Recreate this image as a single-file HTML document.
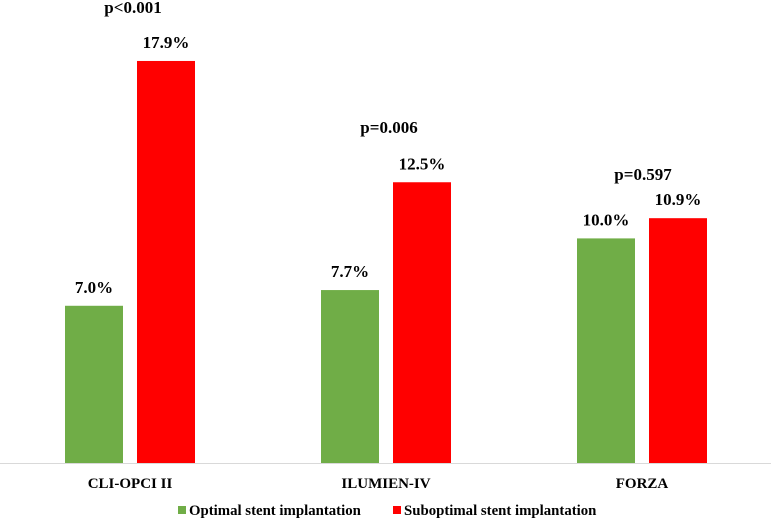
<!DOCTYPE html>
<html><head><meta charset="utf-8"><style>
body{margin:0;background:#fff;width:771px;height:520px;overflow:hidden}
svg text{font-family:"Liberation Serif",serif;font-weight:bold;fill:#000}
</style></head><body>
<svg id="chart" width="771" height="520" xmlns="http://www.w3.org/2000/svg">
<line x1="0" y1="463.5" x2="771" y2="463.5" stroke="#d9d9d9" stroke-width="1"/>
<g id="bars"></g>
<g>
<rect x="178" y="506" width="8" height="8" fill="#70AD47"/>
<text x="189" y="515" font-size="14.8">Optimal stent implantation</text>
<rect x="393" y="506" width="8" height="8" fill="#FF0000"/>
<text x="404" y="515" font-size="14.8">Suboptimal stent implantation</text>
</g>
</svg>
<script>
const categories = ["CLI-OPCI II","ILUMIEN-IV","FORZA"];
const optimal = [7.0, 7.7, 10.0];
const suboptimal = [17.9, 12.5, 10.9];
const pvalues = ["p<0.001","p=0.006","p=0.597"];
const pvalueY = [13, 133, 180];

const NS="http://www.w3.org/2000/svg";
const g=document.getElementById('bars');
const baseY=463, pxPer=22.46;
const y=v=>baseY-v*pxPer;
const cx=i=>130+i*256;
const pOffset=[3,3,1];
function mk(tag,attrs,txt){const e=document.createElementNS(NS,tag);for(const k in attrs)e.setAttribute(k,attrs[k]);if(txt!==undefined)e.textContent=txt;g.appendChild(e);return e;}
categories.forEach((c,i)=>{
  const series=[[optimal[i],"#70AD47",cx(i)-65,"optimal"],[suboptimal[i],"#FF0000",cx(i)+7,"suboptimal"]];
  series.forEach(([v,col,x,nm])=>{
    const r=mk('rect',{x:x,y:y(v),width:58,height:baseY-y(v),fill:col});
    
    
    const t=mk('text',{x:x+29,y:y(v)-13,'text-anchor':'middle','font-size':'17'},v.toFixed(1)+'%');
    
    
  });
  const l=mk('text',{x:cx(i),y:488,'text-anchor':'middle','font-size':'15'},c);
  
  
  const p=mk('text',{x:cx(i)+pOffset[i],y:pvalueY[i],'text-anchor':'middle','font-size':'17'},pvalues[i]);
  
  
});
</script>
</body></html>
